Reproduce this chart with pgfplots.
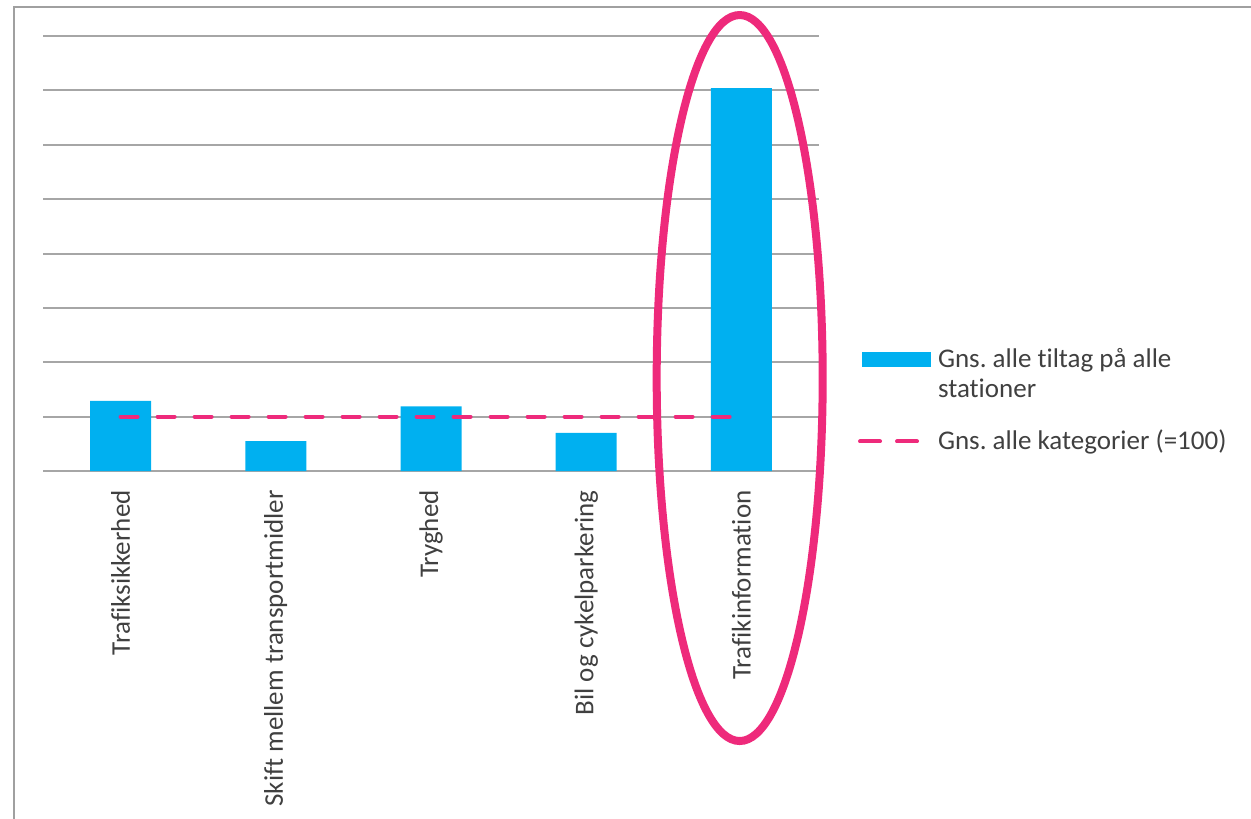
\documentclass[border=0pt]{standalone}
\usepackage{fontspec}
\setmainfont{Carlito}[Ligatures=NoCommon]
\usepackage{pgfplots}
\pgfplotsset{compat=1.18}
\definecolor{barblue}{HTML}{00B0F0}
\definecolor{pinkc}{HTML}{EE2A7B}
\definecolor{gridgray}{HTML}{A6A6A6}
\definecolor{framegray}{HTML}{A0A0A0}
\definecolor{txt}{HTML}{404040}
\frenchspacing
\begin{document}
\begin{tikzpicture}
\useasboundingbox (0,0) rectangle (625.5pt,-409pt);
\draw[framegray, line width=1pt] (7pt,-410pt) -- (7pt,-3.5pt) -- (626pt,-3.5pt);
\begin{axis}[
  at={(21.5pt,-235.5pt)}, anchor=south west,
  scale only axis, width=388pt, height=217.5pt,
  xmin=-0.5, xmax=4.5, ymin=0, ymax=800,
  ytick={0,100,...,800}, yticklabels={},
  ymajorgrids, grid style={gridgray, line width=1pt},
  axis line style={draw=none},
  major tick style={draw=none},
  xtick={0,...,4},
  xticklabels={Trafiksikkerhed, Skift mellem transportmidler, Tryghed, Bil og cykelparkering, Trafikinformation},
  xticklabel style={yshift=-9.5pt, rotate=90, anchor=east, inner sep=0pt, font=\fontsize{13.5}{15}\selectfont, text=txt},
  clip=false,
  legend cell align=left,
  legend style={at={(1.0503,0.2828)}, anchor=north west, draw=none, fill=none,
    inner sep=0pt, outer sep=0pt, column sep=3.5pt, row sep=15pt,
    font=\fontsize{13.5}{15}\selectfont, text=txt,
    cells={align=left}, nodes={inner sep=0pt}},
]
\addplot[ybar, bar width=30.5pt, fill=barblue, draw=none,
  legend image code/.code={\fill[barblue] (2pt,3.75pt) rectangle (36.5pt,11.25pt);}]
  coordinates {(0,129) (1,55) (2,119) (3,70) (4,704)};
\addlegendentry{Gns. alle tiltag på alle\\stationer}
\addplot[pinkc, line width=2pt, line cap=round, dash pattern=on 8.5pt off 10pt,
  legend image code/.code={\draw[pinkc, line width=2pt, line cap=round, dash pattern=on 10pt off 8.5pt] (1pt,0pt) -- (29.5pt,0pt);}]
  coordinates {(0,100) (4,100)};
\addlegendentry{Gns. alle kategorier (=100)}
\draw[pinkc, line width=4pt] (axis cs:3.989,171) ellipse [x radius=41.5pt, y radius=181.5pt];
\end{axis}
\end{tikzpicture}
\end{document}
